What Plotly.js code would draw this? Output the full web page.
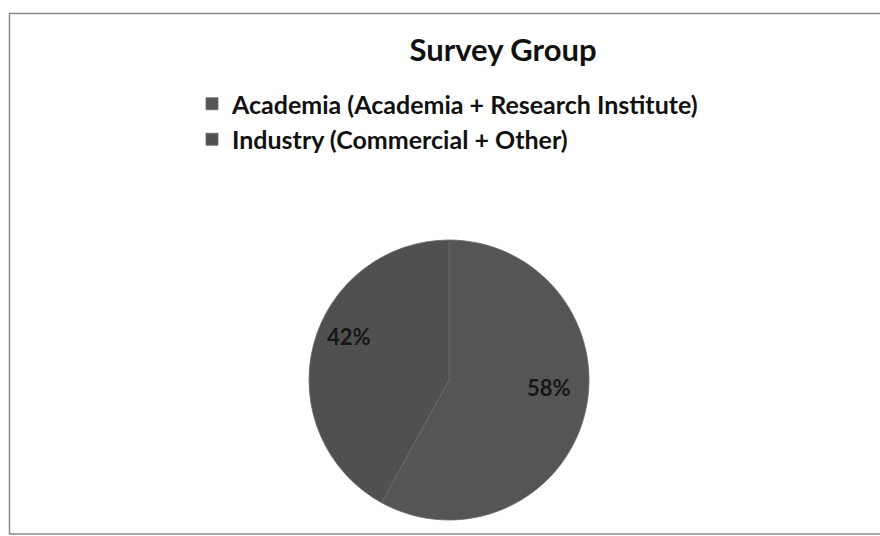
<!DOCTYPE html>
<html>
<head>
<meta charset="utf-8">
<script src="https://cdn.plot.ly/plotly-3.0.1.min.js"></script>
<style>html,body{margin:0;padding:0;background:#fff;}#chart{width:880px;height:536px;}</style>
</head>
<body>
<div id="chart"></div>
<script>
const categories = ["Academia (Academia + Research Institute)", "Industry (Commercial + Other)"];
const shares = [58, 42];
const sliceColors = ["#555555", "#505050"];

const W = 880, H = 536;
const cx = 449, cy = 380, r = 140;
const FONT = "Lato, 'Open Sans', sans-serif";

const trace = {
  type: "pie",
  labels: categories,
  values: shares,
  sort: false,
  direction: "clockwise",
  rotation: 0,
  marker: {colors: sliceColors, line: {color: "#6a6a6a", width: 0.8}},
  textinfo: "none",
  domain: {x: [(cx - r) / W, (cx + r) / W], y: [(H - cy - r) / H, (H - cy + r) / H]},
  showlegend: true,
  hoverinfo: "skip"
};

// percentage labels placed at each slice's mid-angle (computed from the data)
const total = shares.reduce((a, b) => a + b, 0);
let acc = 0;
const annotations = shares.map((v) => {
  const mid = (acc + v / 2) / total * 2 * Math.PI;
  acc += v;
  const rr = r * 0.74;
  const px = cx + rr * Math.sin(mid);
  const py = cy - rr * Math.cos(mid);
  return {
    xref: "paper", yref: "paper",
    x: px / W, y: 1 - py / H,
    yshift: 18,
    text: "<b>" + Math.round(v / total * 100) + "%</b>",
    showarrow: false,
    font: {family: FONT, size: 22, color: "#161616"},
    xanchor: "center", yanchor: "middle"
  };
});

const layout = {
  width: W, height: H,
  margin: {l: 0, r: 0, t: 0, b: 0},
  paper_bgcolor: "#ffffff",
  title: {
    text: "<b>Survey Group</b>",
    x: 503 / W, xanchor: "center",
    y: 1 - 50 / H, yanchor: "middle",
    font: {family: FONT, size: 31, color: "#111111"}
  },
  legend: {
    x: 192 / W, xanchor: "left",
    y: 1 - 81 / H, yanchor: "top",
    traceorder: "normal",
    font: {family: FONT, size: 25, color: "#111111", weight: "bold"},
    itemwidth: 30,
    tracegroupgap: 0,
    bgcolor: "rgba(0,0,0,0)"
  },
  annotations: annotations,
  shapes: [{
    type: "rect", xref: "paper", yref: "paper",
    x0: 9.5 / W, x1: 1.01, y0: 1 - 534 / H, y1: 1 - 13.5 / H,
    line: {color: "#8a8a8a", width: 1.5}, fillcolor: "rgba(0,0,0,0)", layer: "below"
  }]
};

Plotly.newPlot("chart", [trace], layout, {displayModeBar: false, staticPlot: true});
</script>
</body>
</html>
